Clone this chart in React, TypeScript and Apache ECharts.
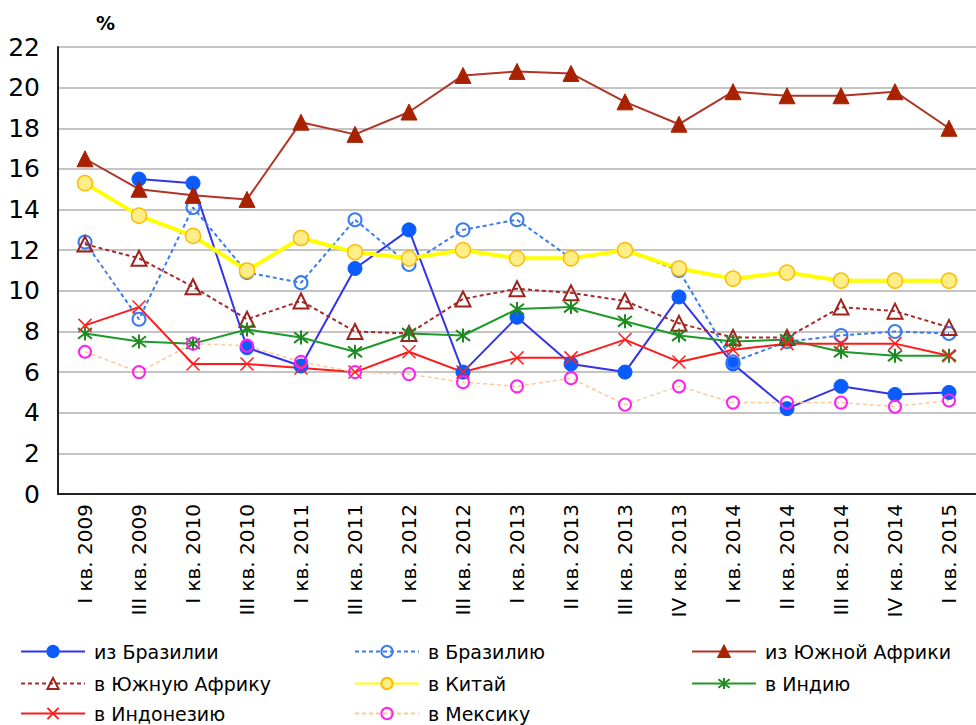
import React, { useEffect, useRef } from "react";
import * as echarts from "echarts";

const categories = [
  "I кв. 2009", "III кв. 2009", "I кв. 2010", "III кв. 2010", "I кв. 2011", "III кв. 2011",
  "I кв. 2012", "III кв. 2012", "I кв. 2013", "II кв. 2013", "III кв. 2013", "IV кв. 2013",
  "I кв. 2014", "II кв. 2014", "III кв. 2014", "IV кв. 2014", "I кв. 2015",
];

const fromBrazil = [null, 15.5, 15.3, 7.2, 6.3, 11.1, 13.0, 6.0, 8.7, 6.4, 6.0, 9.7, 6.4, 4.2, 5.3, 4.9, 5.0];
const toBrazil = [12.4, 8.6, 14.1, 10.9, 10.4, 13.5, 11.3, 13.0, 13.5, 11.6, 12.0, 11.0, 6.5, 7.5, 7.8, 8.0, 7.9];
const fromSouthAfrica = [16.5, 15.0, 14.7, 14.5, 18.3, 17.7, 18.8, 20.6, 20.8, 20.7, 19.3, 18.2, 19.8, 19.6, 19.6, 19.8, 18.0];
const toSouthAfrica = [12.3, 11.6, 10.2, 8.6, 9.5, 8.0, 7.9, 9.6, 10.1, 9.9, 9.5, 8.4, 7.7, 7.7, 9.2, 9.0, 8.2];
const toChina = [15.3, 13.7, 12.7, 11.0, 12.6, 11.9, 11.6, 12.0, 11.6, 11.6, 12.0, 11.1, 10.6, 10.9, 10.5, 10.5, 10.5];
const toIndia = [7.9, 7.5, 7.4, 8.1, 7.7, 7.0, 7.9, 7.8, 9.1, 9.2, 8.5, 7.8, 7.5, 7.6, 7.0, 6.8, 6.8];
const toIndonesia = [8.3, 9.2, 6.4, 6.4, 6.2, 6.0, 7.0, 6.0, 6.7, 6.7, 7.6, 6.5, 7.1, 7.4, 7.4, 7.4, 6.8];
const toMexico = [7.0, 6.0, 7.4, 7.3, 6.5, 6.0, 5.9, 5.5, 5.3, 5.7, 4.4, 5.3, 4.5, 4.5, 4.5, 4.3, 4.6];

const yTicks = { min: 0, max: 22, interval: 2 };

const FONT = "DejaVu Sans, Verdana, sans-serif";
const CLEAR = "rgba(255,255,255,0)";
const STAR = "path://M5,0 L5,10 M1.2,1.2 L8.8,8.8 M8.8,1.2 L1.2,8.8";
const CROSS = "path://M0,0 L10,10 M10,0 L0,10";

// legend layout: [name, left, top]
const legendSlots: [string, number, number][] = [
  ["из Бразилии", 20, 641],
  ["в Бразилию", 354, 641],
  ["из Южной Африки", 691, 641],
  ["в Южную Африку", 20, 673],
  ["в Китай", 354, 673],
  ["в Индию", 691, 673],
  ["в Индонезию", 20, 703],
  ["в Мексику", 354, 703],
];

export default function App() {
  const ref = useRef<HTMLDivElement>(null);

  useEffect(() => {
    document.body.style.margin = "0";
    const chart = echarts.init(ref.current!, undefined, { renderer: "svg" });

    chart.setOption({
      animation: false,
      backgroundColor: "#fff",
      textStyle: { fontFamily: FONT },
      grid: { left: 58, top: 47, width: 926, height: 447, containLabel: false },
      graphic: [
        {
          type: "text",
          left: 96,
          top: 13,
          style: { text: "%", font: `bold 19px ${FONT}`, fill: "#000" },
        },
      ],
      legend: legendSlots.map(([name, left, top]) => ({
        left,
        top,
        padding: 0,
        data: [name],
        itemWidth: 64,
        itemHeight: 14,
        selectedMode: false,
        textStyle: { fontFamily: FONT, fontSize: 19, color: "#000", lineHeight: 21, padding: [0, 0, 0, 4] },
      })),
      xAxis: {
        type: "category",
        data: categories,
        boundaryGap: true,
        axisLine: { lineStyle: { color: "#222", width: 2 } },
        axisTick: { show: false },
        axisLabel: {
          rotate: 90,
          interval: 0,
          margin: 10,
          fontSize: 20,
          fontFamily: FONT,
          color: "#000",
        },
      },
      yAxis: {
        type: "value",
        min: yTicks.min,
        max: yTicks.max,
        interval: yTicks.interval,
        axisLine: { show: true, lineStyle: { color: "#222", width: 2 } },
        axisTick: { show: false },
        axisLabel: { fontSize: 25, fontFamily: FONT, color: "#000", margin: 18 },
        splitLine: { lineStyle: { color: "#c4c4c4", width: 2 } },
      },
      series: [
        {
          name: "из Бразилии",
          type: "line",
          data: fromBrazil,
          symbol: "circle",
          symbolSize: 14,
          lineStyle: { color: "#3333ee", width: 2 },
          itemStyle: { color: "#0a5cff", borderColor: "#0a5cff", borderWidth: 1 },
        },
        {
          name: "в Бразилию",
          type: "line",
          data: toBrazil,
          symbol: "circle",
          symbolSize: 13,
          lineStyle: { color: "#3a7cf0", width: 2, type: [4, 3] },
          itemStyle: { color: CLEAR, borderColor: "#3a7cf0", borderWidth: 2 },
        },
        {
          name: "из Южной Африки",
          type: "line",
          data: fromSouthAfrica,
          symbol: "triangle",
          symbolSize: 16,
          lineStyle: { color: "#b03428", width: 2 },
          itemStyle: { color: "#a82200", borderColor: "#a82200", borderWidth: 1 },
        },
        {
          name: "в Южную Африку",
          type: "line",
          data: toSouthAfrica,
          symbol: "triangle",
          symbolSize: 15,
          lineStyle: { color: "#a52a2a", width: 2, type: [4, 3] },
          itemStyle: { color: CLEAR, borderColor: "#a0221c", borderWidth: 2 },
        },
        {
          name: "в Китай",
          type: "line",
          data: toChina,
          symbol: "circle",
          symbolSize: 15,
          lineStyle: { color: "#ffff00", width: 4 },
          itemStyle: { color: "#ffee88", borderColor: "#ffbb00", borderWidth: 1.5 },
        },
        {
          name: "в Индию",
          type: "line",
          data: toIndia,
          symbol: STAR,
          symbolSize: 14,
          lineStyle: { color: "#1e9a2a", width: 2 },
          itemStyle: { color: CLEAR, borderColor: "#1e8a22", borderWidth: 2 },
        },
        {
          name: "в Индонезию",
          type: "line",
          data: toIndonesia,
          symbol: CROSS,
          symbolSize: 13,
          lineStyle: { color: "#ff1a1a", width: 2 },
          itemStyle: { color: CLEAR, borderColor: "#ff2020", borderWidth: 1.5 },
        },
        {
          name: "в Мексику",
          type: "line",
          data: toMexico,
          symbol: "circle",
          symbolSize: 12,
          lineStyle: { color: "#ffc898", width: 1.5, type: [4, 3] },
          itemStyle: { color: CLEAR, borderColor: "#ff22ee", borderWidth: 2 },
        },
      ],
    });

    return () => chart.dispose();
  }, []);

  return <div ref={ref} style={{ width: 976, height: 725 }} />;
}
